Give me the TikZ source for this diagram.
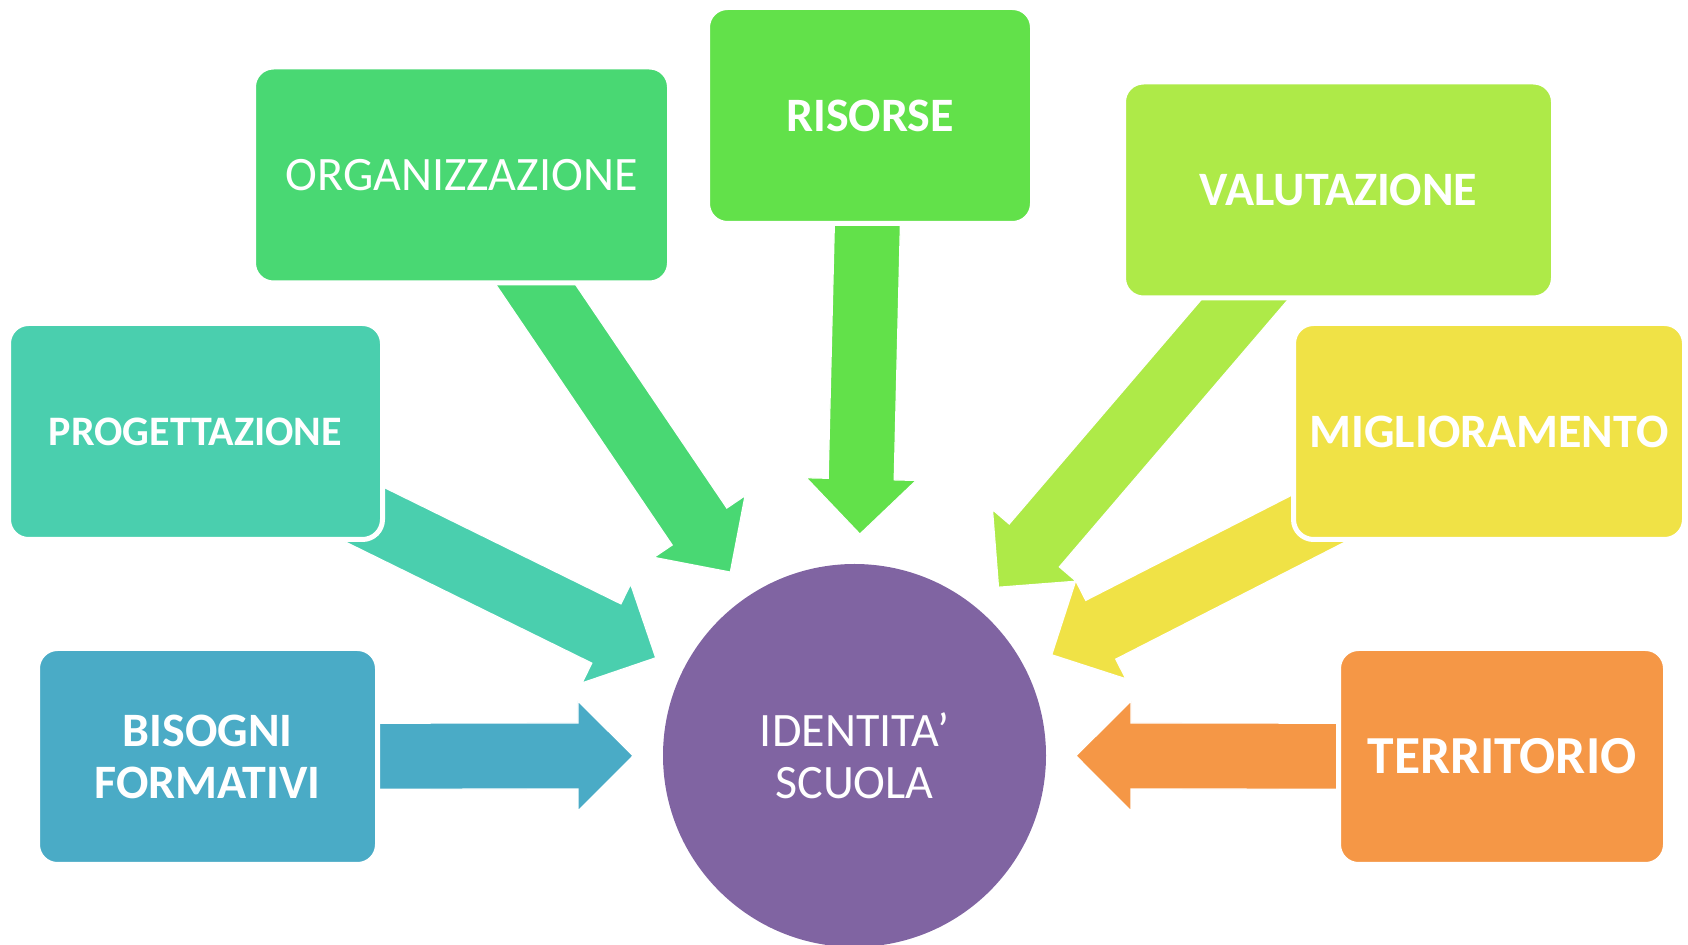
\documentclass[tikz,border=0pt]{standalone}
\usepackage{fontspec}
\setmainfont{Carlito}
\usetikzlibrary{calc}
\definecolor{cOrg}{HTML}{49D873}
\definecolor{cRis}{HTML}{62E14A}
\definecolor{cVal}{HTML}{AEEA48}
\definecolor{cProg}{HTML}{4ACFAE}
\definecolor{cMig}{HTML}{F0E246}
\definecolor{cBis}{HTML}{4AABC6}
\definecolor{cTer}{HTML}{F59746}
\definecolor{cId}{HTML}{8064A2}
\pgfdeclarelayer{bg}
\pgfsetlayers{bg,main}
% block arrow from a box (#2) towards the circle (#3), coloured #1
\newcommand\blockarrow[3]{%
  \coordinate (bT) at ($(#3.center)!110.75pt!(#2.center)$);
  \coordinate (bH) at ($(bT)!27.5pt!(#2.center)$);
  \fill[#1, draw=white, line width=0.6pt, line join=miter]
    ($(#2.center)!16.5pt!90:(bT)$) -- ($(bH)!16.5pt!90:(bT)$) -- ($(bH)!27.5pt!90:(bT)$) -- (bT)
    -- ($(bH)!27.5pt!-90:(bT)$) -- ($(bH)!16.5pt!-90:(bT)$) -- ($(#2.center)!16.5pt!-90:(bT)$) -- cycle;
}
\tikzset{
  box/.style={rectangle, rounded corners=10pt, draw=white, line width=2.5pt, inner sep=0pt,
    minimum height=108pt, text=white, font=\fontsize{24}{26}\selectfont, align=center},
  boldbox/.style={box, font=\fontsize{24}{26}\selectfont\bfseries},
  hub/.style={circle, fill=cId, minimum size=191.5pt, inner sep=0pt, text=white,
    font=\fontsize{24}{26}\selectfont, align=center},
}
\begin{document}
\begin{tikzpicture}[x=0.5pt, y=-0.5pt]
\useasboundingbox (0,0) rectangle (1688,945);
\node[box, fill=cOrg, minimum width=208pt] (org) at (461.5,175) {ORGANIZZAZIONE};
\node[boldbox, fill=cRis, minimum width=162.5pt] (ris) at (870,115.5) {RISORSE};
\node[boldbox, fill=cVal, minimum width=215pt] (val) at (1338.5,190) {VALUTAZIONE};
\node[boldbox, fill=cProg, minimum width=187pt, font=\fontsize{21}{24}\selectfont\bfseries] (prog) at (195.5,431.5) {PROGETTAZIONE};
\node[boldbox, fill=cMig, minimum width=195.5pt] (mig) at (1489,431.5) {MIGLIORAMENTO};
\node[boldbox, fill=cBis, minimum width=170pt] (bis) at (207.5,756.5) {BISOGNI\\FORMATIVI};
\node[boldbox, fill=cTer, minimum width=163.5pt, font=\fontsize{26.75}{30}\selectfont\bfseries] (ter) at (1502,756.5) {TERRITORIO};
\node[hub] (id) at (854.5,755.5) {IDENTITA’\\SCUOLA};
\begin{pgfonlayer}{bg}
  \blockarrow{cBis}{bis}{id}
  \blockarrow{cProg}{prog}{id}
  \blockarrow{cOrg}{org}{id}
  \blockarrow{cRis}{ris}{id}
  \blockarrow{cVal}{val}{id}
  \blockarrow{cMig}{mig}{id}
  \blockarrow{cTer}{ter}{id}
\end{pgfonlayer}
\end{tikzpicture}
\end{document}
